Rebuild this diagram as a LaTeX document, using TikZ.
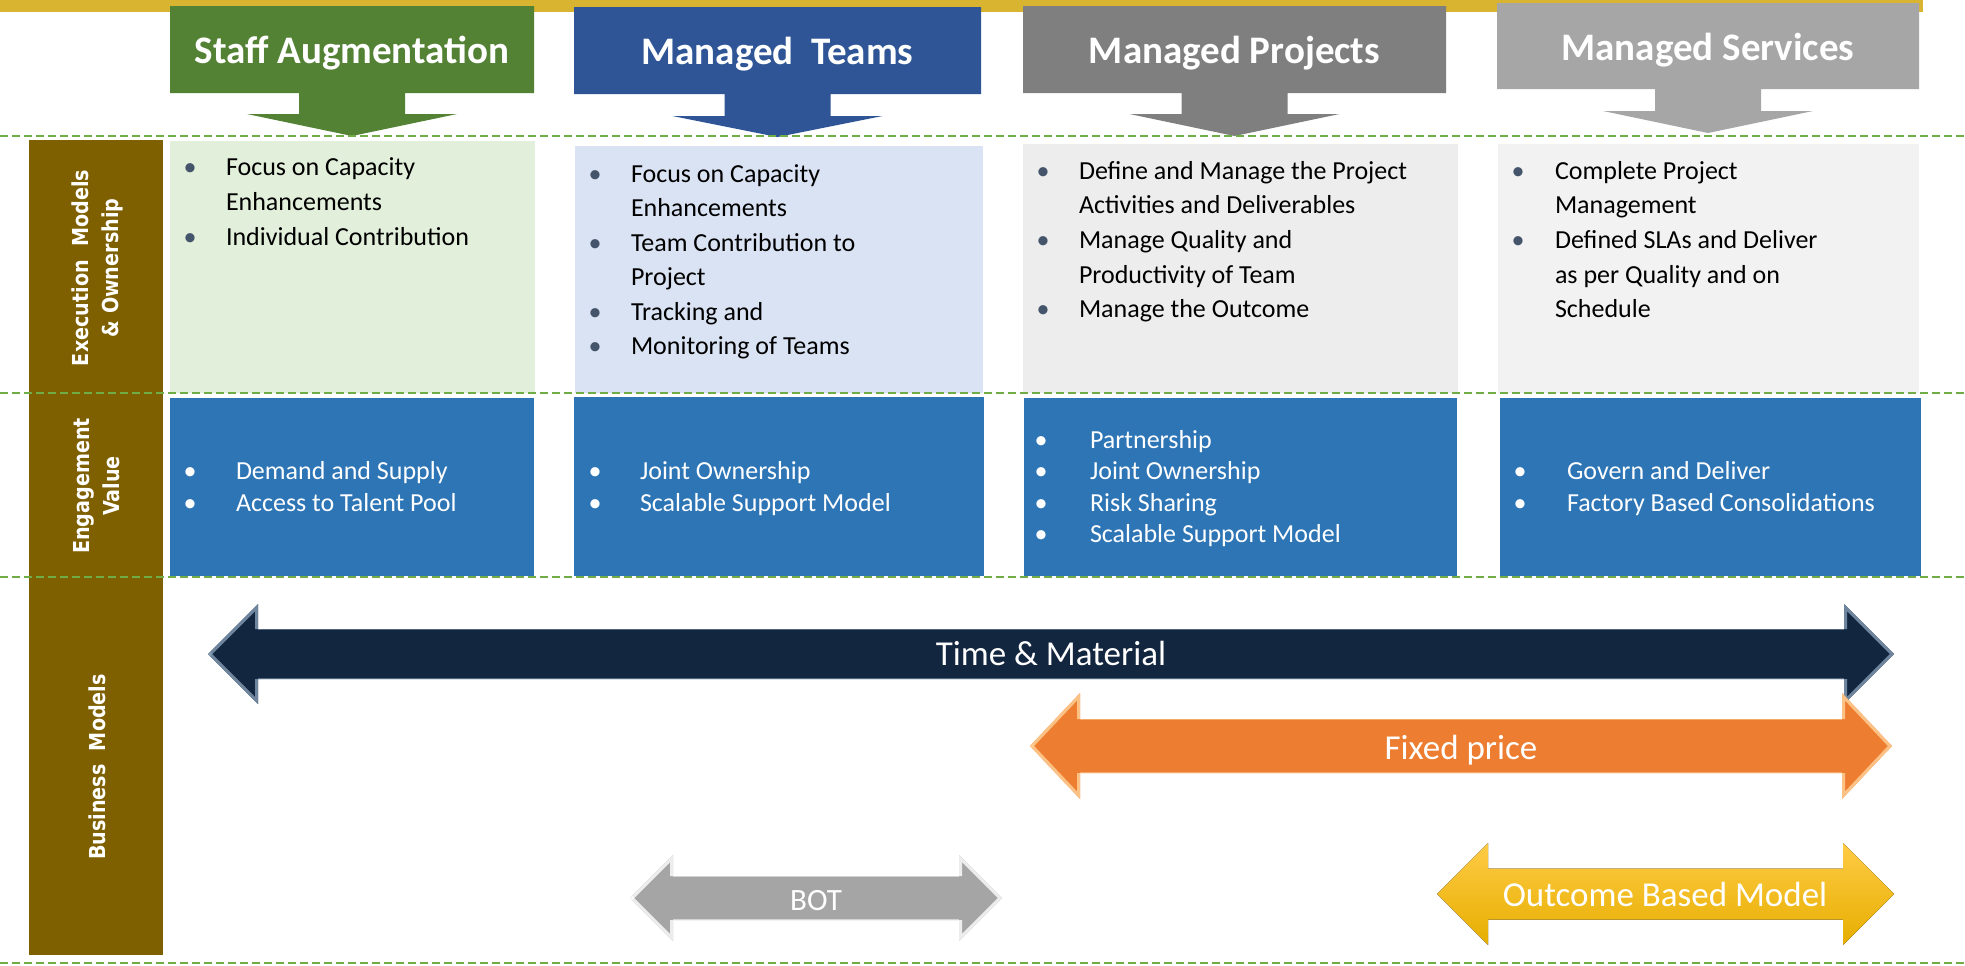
\documentclass[tikz,border=0pt]{standalone}
\usepackage{fontspec}
\setmainfont{Carlito}
\newfontfamily\sidefont{DejaVu Sans}[FakeStretch=0.87]
\definecolor{goldbar}{HTML}{D8B431}
\definecolor{hdrA}{HTML}{548235}
\definecolor{hdrB}{HTML}{2F5597}
\definecolor{hdrC}{HTML}{7F7F7F}
\definecolor{hdrD}{HTML}{A6A6A6}
\definecolor{cA}{HTML}{E2EFDA}
\definecolor{cB}{HTML}{DAE3F3}
\definecolor{cC}{HTML}{EDEDED}
\definecolor{cD}{HTML}{F2F2F2}
\definecolor{bluebox}{HTML}{2E75B6}
\definecolor{brown}{HTML}{7F6000}
\definecolor{dashgreen}{HTML}{70AD47}
\definecolor{bulletc}{HTML}{44546A}
\definecolor{navy}{HTML}{12263F}
\definecolor{navyedge}{HTML}{8FA6BF}
\definecolor{orangeA}{HTML}{ED7D31}
\definecolor{orangeedge}{HTML}{FFD39A}
\definecolor{botgray}{HTML}{A5A5A5}
\definecolor{outtop}{HTML}{FFCB45}
\definecolor{outmid}{HTML}{FFC000}
\definecolor{outbot}{HTML}{E6AE00}

\newcommand\hdrshape[8]{% L R T B C Sb Tp colour
  \fill[#8] (#1,#3) -- (#2,#3) -- (#2,#4) -- ({#5+53},#4) -- ({#5+53},#6) -- ({#5+105},#6) -- (#5,#7)
    -- ({#5-105},#6) -- ({#5-53},#6) -- ({#5-53},#4) -- (#1,#4) -- cycle;}

\newcommand\darrow[8]{% x1 x2 yc hw hh sh fillopts edgeopts
  \fill[#7] (#1,#3) -- ({#1+#4},{#3-#5}) -- ({#1+#4},{#3-#6}) -- ({#2-#4},{#3-#6}) -- ({#2-#4},{#3-#5})
    -- (#2,#3) -- ({#2-#4},{#3+#5}) -- ({#2-#4},{#3+#6}) -- ({#1+#4},{#3+#6}) -- ({#1+#4},{#3+#5}) -- cycle;
  \begin{scope}
  \clip (#1,#3) -- ({#1+#4},{#3-#5}) -- ({#1+#4},{#3-#6}) -- ({#2-#4},{#3-#6}) -- ({#2-#4},{#3-#5})
    -- (#2,#3) -- ({#2-#4},{#3+#5}) -- ({#2-#4},{#3+#6}) -- ({#1+#4},{#3+#6}) -- ({#1+#4},{#3+#5}) -- cycle;
  \draw[#8] (#1,#3) -- ({#1+#4},{#3-#5}) -- ({#1+#4},{#3-#6});
  \draw[#8] ({#2-#4},{#3-#6}) -- ({#2-#4},{#3-#5}) -- (#2,#3) -- ({#2-#4},{#3+#5}) -- ({#2-#4},{#3+#6});
  \draw[#8] ({#1+#4},{#3+#6}) -- ({#1+#4},{#3+#5}) -- (#1,#3);
  \draw[#8,line width=0.8pt,opacity=0.5] ({#1+#4},{#3-#6}) -- ({#2-#4},{#3-#6});
  \draw[#8,line width=0.8pt,opacity=0.5] ({#1+#4},{#3+#6}) -- ({#2-#4},{#3+#6});
  \end{scope}}

% bullet line: name, style prefix, bullet x, text x, baseline y, text
\newcommand\bitem[6]{%
  \node[#2bul] (#1b) at (#3,#5) {•};
  \node[#2txt] (#1) at (#4,#5) {#6};}
% continuation line: name, style prefix, text x, baseline y, text
\newcommand\citem[5]{%
  \node[#2txt] (#1) at (#3,#4) {#5};}

\begin{document}
\begin{tikzpicture}[x=0.5pt,y=-0.5pt,
  every node/.style={inner sep=0pt,outer sep=0pt},
  hdrtxt/.style={text=white,font=\fontsize{19.5}{23}\selectfont\bfseries,anchor=base},
  bodytxt/.style={text=black,font=\fontsize{13}{16}\selectfont,anchor=base west},
  bodybul/.style={text=bulletc,font=\fontsize{13}{16}\selectfont,anchor=base},
  bluetxt/.style={text=white,font=\fontsize{13}{16}\selectfont,anchor=base west},
  bluebul/.style={text=white,font=\fontsize{13}{16}\selectfont,anchor=base},
  sidetxt/.style={text=white,font=\sidefont\bfseries\fontsize{11}{15}\selectfont,rotate=90,align=center},
  arrtxt/.style={text=white,font=\fontsize{17.5}{21}\selectfont,anchor=base},
  dashline/.style={draw=dashgreen,line width=1pt,dash pattern=on 4pt off 2pt}]
\useasboundingbox (0,0) rectangle (1965,965);
\fill[white] (0,0) rectangle (1965,965);

% gold top bar
\fill[goldbar] (0,0) rectangle (1923,12);

% header arrow shapes
\hdrshape{170}{534}{6}{93}{352}{114}{136}{hdrA}
\hdrshape{574}{981}{7}{94}{777.5}{116}{137}{hdrB}
\hdrshape{1023}{1446}{6}{93}{1234.5}{114}{136}{hdrC}
\hdrshape{1497}{1919}{3}{89}{1708}{111}{133}{hdrD}

% execution content boxes
\fill[cA] (170,141) rectangle (535,393);
\fill[cB] (575,146) rectangle (983,393);
\fill[cC] (1023,144) rectangle (1458,393);
\fill[cD] (1498,144) rectangle (1919,393);

% engagement boxes
\fill[bluebox] (170,398) rectangle (534,576);
\fill[bluebox] (574,397) rectangle (984,576);
\fill[bluebox] (1024,398) rectangle (1457,576);
\fill[bluebox] (1500,398) rectangle (1921,576);

% side bars
\fill[brown] (29,140) rectangle (163,393);
\fill[brown] (29,393) rectangle (163,577);
\fill[brown] (29,577) rectangle (163,955);

% dashed separators
\draw[dashline] (0,136) -- (1965,136);
\draw[dashline] (0,393) -- (1965,393);
\draw[dashline] (0,577) -- (1965,577);
\draw[dashline] (0,963) -- (1965,963);

% business model arrows
\darrow{208}{1894}{654}{50}{50}{25}{navy}{draw=navyedge,line width=3pt,opacity=0.75}
\darrow{1030}{1892}{746}{50}{53}{27}{orangeA}{draw=orangeedge,line width=3pt,opacity=0.8}
\darrow{630}{1002}{898}{43}{43}{22}{botgray}{draw=white,line width=3pt,opacity=0.8}
\darrow{1437}{1894}{894}{51}{51}{25.5}{top color=outtop,middle color=outmid,bottom color=outbot}{draw=none}

% header texts
\node[hdrtxt] (hA) at (352,63) {Staff Augmentation};
\node[hdrtxt] (hB) at (777.5,64) {Managed\ \ Teams};
\node[hdrtxt] (hC) at (1234.5,63) {Managed Projects};
\node[hdrtxt] (hD) at (1708,60) {Managed Services};

% side labels
\node[sidetxt] (sExec) at (97,268) {Execution\ \ Models\\ \& Ownership};
\node[sidetxt] (sEng) at (97,486) {Engagement\\ Value};
\node[sidetxt] (sBus) at (97,767) {Business\ \ Models};

% column 1 execution
\bitem{eA1}{body}{190}{226}{175}{Focus on Capacity}
\citem{eA2}{body}{226}{210}{Enhancements}
\bitem{eA3}{body}{190}{226}{245}{Individual Contribution}

% column 2 execution
\bitem{eB1}{body}{595}{631}{182}{Focus on Capacity}
\citem{eB2}{body}{631}{216.5}{Enhancements}
\bitem{eB3}{body}{595}{631}{251}{Team Contribution to}
\citem{eB4}{body}{631}{285.5}{Project}
\bitem{eB5}{body}{595}{631}{320}{Tracking and}
\bitem{eB6}{body}{595}{631}{354.5}{Monitoring of Teams}

% column 3 execution
\bitem{eC1}{body}{1043}{1079}{179}{Define and Manage the Project}
\citem{eC2}{body}{1079}{213}{Activities and Deliverables}
\bitem{eC3}{body}{1043}{1079}{248}{Manage Quality and}
\citem{eC4}{body}{1079}{283}{Productivity of Team}
\bitem{eC5}{body}{1043}{1079}{317}{Manage the Outcome}

% column 4 execution
\bitem{eD1}{body}{1518}{1555}{179}{Complete Project}
\citem{eD2}{body}{1555}{213}{Management}
\bitem{eD3}{body}{1518}{1555}{248}{Defined SLAs and Deliver}
\citem{eD4}{body}{1555}{283}{as per Quality and on}
\citem{eD5}{body}{1555}{317}{Schedule}

% engagement values
\bitem{vA1}{blue}{190}{236}{479.5}{Demand and Supply}
\bitem{vA2}{blue}{190}{236}{511}{Access to Talent Pool}
\bitem{vB1}{blue}{595}{640}{479.5}{Joint Ownership}
\bitem{vB2}{blue}{595}{640}{511}{Scalable Support Model}
\bitem{vC1}{blue}{1041}{1090}{448}{Partnership}
\bitem{vC2}{blue}{1041}{1090}{479.5}{Joint Ownership}
\bitem{vC3}{blue}{1041}{1090}{511}{Risk Sharing}
\bitem{vC4}{blue}{1041}{1090}{542.5}{Scalable Support Model}
\bitem{vD1}{blue}{1520}{1567}{479.5}{Govern and Deliver}
\bitem{vD2}{blue}{1520}{1567}{511}{Factory Based Consolidations}

% arrow labels
\node[arrtxt] (tm) at (1051,665) {Time \& Material};
\node[arrtxt] (fp) at (1461,759) {Fixed price};
\node[arrtxt,font=\fontsize{15.5}{19}\selectfont] (bot) at (816,910) {BOT};
\node[arrtxt] (obm) at (1665,906) {Outcome Based Model};
\end{tikzpicture}
\end{document}
